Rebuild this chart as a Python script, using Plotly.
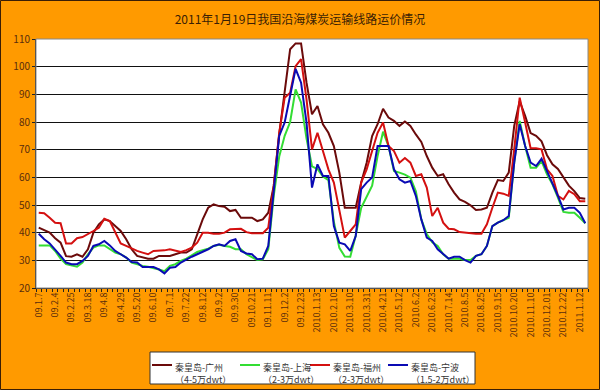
import plotly.graph_objects as go

tick_labels = ["09.1.7", "09.2.4", "09.2.25", "09.3.18", "09.4.8", "09.4.29", "09.5.20", "09.6.10",
               "09.7.1", "09.7.22", "09.8.12", "09.9.2", "09.9.30", "09.10.21", "09.11.11", "09.12.2",
               "09.12.23", "2010.1.13", "2010.2.10", "2010.3.10", "2010.3.31", "2010.4.21", "2010.5.12",
               "2010.6.2", "2010.6.23", "2010.7.14", "2010.8.5", "2010.8.25", "2010.9.15", "2010.10.20",
               "2010.11.10", "2010.12.01", "2010.12.22", "2011.1.12"]
tick_step = 3

guangzhou = [41.8, 41.0, 40.0, 38.0, 36.4, 31.5, 31.3, 32.2, 31.3, 34.0,
             40.0, 43.0, 44.8, 44.2, 42.4, 40.6, 37.6, 34.0, 31.6, 31.0,
             30.6, 30.6, 31.6, 31.6, 31.6, 32.2, 32.8, 32.8, 34.0, 39.4,
             44.8, 49.0, 50.2, 49.6, 49.4, 47.8, 48.2, 45.4, 45.4, 45.4,
             44.2, 44.8, 47.2, 56.9, 75.5, 91.8, 106.3, 108.4, 108.4, 94.2,
             82.8, 85.8, 79.2, 76.1, 71.3, 61.7, 49.0, 49.0, 49.0, 58.1,
             65.3, 74.9, 79.2, 84.8, 81.6, 80.4, 78.6, 80.2, 78.6, 75.5,
             72.8, 67.7, 63.5, 60.5, 61.1, 57.5, 54.5, 52.0, 51.1, 49.9,
             48.2, 48.4, 49.0, 54.5, 59.0, 58.7, 61.7, 78.6, 87.5, 82.2,
             76.0, 75.0, 73.0, 68.0, 64.7, 63.0, 60.0, 57.0, 55.0, 52.5,
             52.3]
shanghai = [35.4, 35.4, 35.4, 33.4, 30.6, 28.6, 28.2, 27.7, 29.2, 32.2,
            34.6, 35.4, 35.4, 34.0, 32.8, 32.2, 31.0, 29.2, 28.6, 28.0,
            27.7, 27.3, 26.7, 26.1, 28.0, 28.6, 29.8, 30.6, 31.8, 33.0,
            33.7, 34.2, 35.2, 35.6, 35.2, 34.9, 34.0, 34.0, 32.2, 31.0,
            30.1, 30.4, 34.0, 53.3, 67.5, 75.0, 80.0, 91.8, 87.0, 74.0,
            64.0, 63.0, 60.3, 59.0, 44.0, 34.5, 31.4, 31.3, 39.0, 49.0,
            53.0, 57.0, 67.7, 76.5, 71.3, 62.3, 61.7, 61.0, 59.9, 55.0,
            44.8, 39.5, 36.5, 35.2, 32.2, 30.6, 30.6, 30.6, 30.1, 30.1,
            31.6, 32.2, 35.2, 42.4, 43.6, 44.5, 45.4, 65.3, 80.4, 71.3,
            63.5, 63.5, 65.9, 61.1, 57.5, 52.7, 47.5, 47.2, 47.2, 45.4,
            43.4]
fuzhou = [47.2, 47.0, 45.4, 43.6, 43.4, 36.1, 36.1, 38.0, 38.4, 39.4,
          40.6, 41.8, 45.0, 44.2, 40.0, 36.1, 35.2, 34.2, 33.4, 32.8,
          32.2, 33.4, 33.4, 33.6, 34.0, 33.4, 33.0, 33.7, 34.6, 36.4,
          40.0, 40.0, 39.6, 39.6, 40.0, 41.2, 41.4, 41.4, 40.2, 39.8,
          39.8, 39.8, 41.8, 56.9, 76.1, 88.8, 90.6, 100.2, 102.7, 88.2,
          70.1, 76.1, 69.5, 62.9, 58.1, 48.4, 38.2, 40.6, 43.0, 58.1,
          62.9, 69.5, 76.1, 79.8, 71.3, 69.5, 65.3, 67.0, 65.3, 60.5,
          61.1, 56.3, 46.0, 49.0, 43.6, 41.4, 41.2, 40.2, 40.0, 39.6,
          39.6, 39.6, 43.0, 49.0, 54.5, 54.1, 53.3, 70.1, 88.8, 79.8,
          70.5, 70.5, 70.1, 62.9, 60.5, 53.3, 52.0, 55.1, 53.9, 51.4,
          51.4]
ningbo = [39.6, 37.6, 36.1, 34.0, 31.6, 29.2, 28.6, 28.6, 29.8, 31.6,
          35.2, 35.8, 37.0, 35.4, 33.4, 32.2, 31.0, 29.4, 29.2, 27.6,
          27.6, 27.6, 26.7, 25.3, 27.3, 27.6, 29.2, 30.4, 31.3, 32.2,
          33.0, 34.0, 35.2, 35.8, 35.2, 37.0, 37.6, 33.4, 32.5, 32.2,
          30.4, 30.6, 35.2, 55.7, 75.0, 79.8, 89.4, 99.2, 94.2, 79.8,
          56.3, 64.7, 60.5, 60.5, 42.4, 36.4, 35.8, 33.4, 38.8, 55.7,
          58.1, 59.9, 71.3, 71.3, 71.3, 62.9, 59.3, 58.1, 58.7, 53.3,
          44.8, 38.2, 37.0, 34.0, 32.2, 30.6, 31.3, 31.3, 30.1, 29.2,
          31.6, 32.2, 35.2, 42.4, 43.6, 44.5, 46.0, 65.3, 79.2, 71.3,
          65.3, 64.1, 66.7, 62.3, 58.1, 53.3, 48.4, 49.0, 49.0, 47.2,
          43.4]

series_names = ["秦皇岛-广州", "秦皇岛-上海", "秦皇岛-福州", "秦皇岛-宁波"]
series_notes = ["（4-5万dwt）", "（2-3万dwt）", "（2-3万dwt）", "（1.5-2万dwt）"]
series_values = [guangzhou, shanghai, fuzhou, ningbo]
series_colors = ["#6B0A0A", "#33DD33", "#D41010", "#0A0AB4"]

x = list(range(len(guangzhou)))
fig = go.Figure()
for name, note, vals, color in zip(series_names, series_notes, series_values, series_colors):
    fig.add_trace(go.Scatter(x=x, y=vals, name=name + note, mode="lines",
                             line=dict(color=color, width=2), showlegend=False))

orange = "#FF9A00"
textc = "#5A2D0C"
L, R, T, B = 36, 12, 39, 102
W, H = 600, 390
pw, ph = W - L - R, H - T - B


def px_x(v):
    return (v - L) / pw


def px_y(v):
    return (H - B - v) / ph


# legend (drawn as a boxed key below the chart)
legend_line_x = [152, 240, 310, 388]
shapes = [
    dict(type="rect", xref="paper", yref="paper", x0=0, x1=1, y0=0, y1=1,
         line=dict(color="#888888", width=1), fillcolor="rgba(0,0,0,0)", layer="above"),
    dict(type="rect", xref="paper", yref="paper",
         x0=px_x(0.5), x1=px_x(W - 0.5), y0=px_y(H - 0.5), y1=px_y(0.5),
         line=dict(color="#3A1E05", width=1), fillcolor="rgba(0,0,0,0)", layer="above"),
    dict(type="rect", xref="paper", yref="paper",
         x0=px_x(150), x1=px_x(475), y0=px_y(384), y1=px_y(352),
         line=dict(color="#333333", width=1), fillcolor="white", layer="above"),
]
annotations = []
for lx, name, note, color in zip(legend_line_x, series_names, series_notes, series_colors):
    shapes.append(dict(type="line", xref="paper", yref="paper",
                       x0=px_x(lx), x1=px_x(lx + 20), y0=px_y(365), y1=px_y(365),
                       line=dict(color=color, width=2), layer="above"))
    annotations.append(dict(xref="paper", yref="paper", x=px_x(lx + 21), y=px_y(358.5),
                            xanchor="left", yanchor="top", align="left", showarrow=False,
                            text=name + "<br>" + note,
                            font=dict(family="Noto Sans CJK SC", size=9, color="#333333")))

fig.update_layout(
    width=W, height=H,
    margin=dict(l=L, r=R, t=T, b=B),
    paper_bgcolor=orange, plot_bgcolor="white",
    title=dict(text="2011年1月19日我国沿海煤炭运输线路运价情况", x=0.5, xanchor="center",
               y=1 - 20 / H, yanchor="middle",
               font=dict(family="Noto Sans CJK SC", size=12, color="#3A1E05")),
    font=dict(family="Noto Sans CJK SC", size=9, color=textc),
    showlegend=False,
    xaxis=dict(range=[-0.5, len(x) - 0.5], tickmode="array",
               tickvals=[i * tick_step for i in range(len(tick_labels))], ticktext=tick_labels,
               tickangle=-90, ticks="", showgrid=False, zeroline=False,
               showline=True, linecolor="#222222", linewidth=1,
               tickfont=dict(family="Noto Sans CJK SC", size=9, color=textc),
               minor=dict(tickmode="linear", tick0=-0.5, dtick=1, ticks="outside", ticklen=3,
                          tickcolor="#222222", showgrid=False)),
    yaxis=dict(range=[20, 110], dtick=10, tick0=20, showgrid=True, gridcolor="#111111", gridwidth=1,
               zeroline=False, showline=True, linecolor="#222222", linewidth=1,
               ticks="outside", ticklen=3, tickcolor="#222222",
               tickfont=dict(family="Noto Sans CJK SC", size=10, color=textc)),
    shapes=shapes,
    annotations=annotations,
)

fig.write_html("out.html", config={"displayModeBar": False},
               post_script="document.body.style.margin='0';document.body.style.padding='0';")
